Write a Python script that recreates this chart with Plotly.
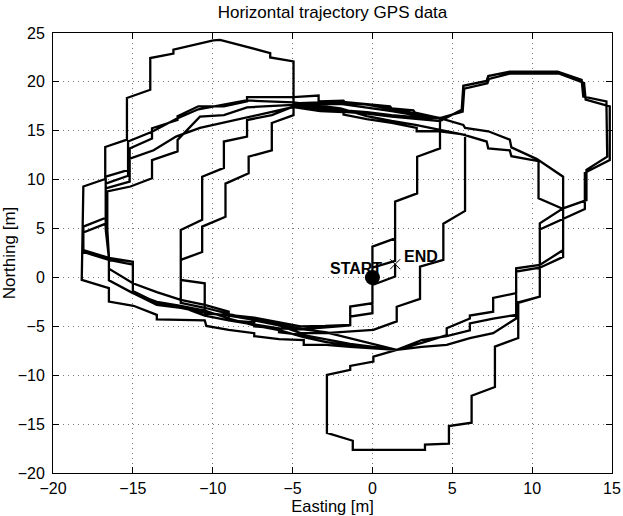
import plotly.graph_objects as go

# Trajectory laps (easting, northing) in metres, in driving order.
lap1 = [(0, 0), (0, 1.0), (1.42, 1.7), (1.42, 4.0), (1.42, 7.75), (2.8, 8.6), (2.8, 12.35), (4.23, 13.2), (4.23, 16.3),
        (2.56, 16.8), (1.21, 17.23), (-0.35, 17.67), (-1.7, 17.84), (-1.81, 18.08), (-3.37, 18.0), (-3.37, 18.6), (-4.94, 18.45),
        (-7.85, 18.45), (-7.85, 18.0), (-9.3, 17.5), (-10.9, 17.5), (-12.2, 16.5), (-12.2, 16.1), (-13.8, 15.26), (-13.8, 14.2),
        (-15.2, 13.2), (-15.2, 9.8), (-16.7, 9.1), (-16.7, 6.1), (-18.1, 5.2), (-18.1, 2.8), (-16.5, 2.0), (-15.0, 1.6),
        (-15.0, -1.6), (-13.5, -2.8), (-12.0, -3.1), (-10.5, -3.6), (-9.0, -3.9),
        (-7.4, -4.35), (-5.85, -4.86), (-4.3, -5.3), (-2.96, -5.6), (-1.4, -6.2), (0.1, -6.8), (1.52, -7.4),
        (3.09, -6.7), (4.65, -5.9), (4.65, -5.2), (6.1, -4.2), (6.1, -3.9), (7.56, -3.5), (7.56, -2.1), (9.0, -1.6), (9.0, 0.94),
        (10.48, 1.28), (11.94, 2.8), (11.94, 10.3),
        (10.3, 12.1), (8.7, 13.3), (8.6, 14.1), (7.25, 14.95), (5.8, 15.3), (5.69, 15.6), (4.23, 16.3)]

lap2 = [(2.7, 16.4), (1.2, 16.6), (-0.35, 16.9), (-2.0, 17.1), (-3.4, 17.35), (-4.94, 17.7),
        (-4.94, 22.1), (-6.4, 22.5), (-6.4, 22.95), (-7.98, 23.6), (-9.54, 24.3), (-9.96, 24.25), (-12.46, 23.3), (-12.46, 22.9),
        (-13.91, 22.44), (-13.91, 19.2), (-15.37, 18.35), (-15.37, 14.09), (-16.73, 13.34), (-16.73, 10.07), (-18.1, 9.3),
        (-18.2, -0.25), (-16.5, -1.1), (-16.5, -2.47), (-14.96, -2.9), (-13.5, -3.83), (-13.5, -4.28), (-10.5, -4.4),
        (-10.4, -4.96), (-9.0, -5.37),
        (-7.4, -5.7), (-7.4, -6.0), (-5.85, -6.3), (-4.3, -6.4), (-4.3, -6.9), (-2.9, -6.9), (-1.4, -7.1), (1.52, -7.4),
        (0.06, -8.1), (0.06, -8.6), (-1.39, -9.05), (-1.39, -9.46), (-2.85, -9.97), (-2.85, -15.9), (-1.23, -16.7),
        (-1.23, -17.64), (3.29, -17.64), (3.29, -17.1), (4.79, -17.0), (4.79, -15.2), (6.21, -14.85), (6.21, -12.1),
        (7.67, -11.2), (7.67, -7.07), (9.13, -6.2), (9.13, -2.6), (10.48, -1.96), (10.48, 4.9),
        (13.3, 7.0), (13.3, 10.7), (14.86, 12.0), (14.86, 17.5), (13.35, 18.2), (13.25, 19.9), (11.7, 20.85), (8.6, 20.85),
        (7.3, 20.3), (7.2, 19.85), (5.75, 19.3), (5.65, 16.95), (4.23, 16.3)]

lap3 = [(2.67, 16.85), (2.56, 17.1), (1.2, 17.3), (1.1, 17.5), (-2.0, 17.97), (-3.4, 17.9), (-4.94, 17.8),
        (-4.94, 16.6), (-6.3, 15.8), (-6.3, 13.0), (-7.75, 12.35), (-7.75, 10.65), (-9.2, 9.6), (-9.2, 6.2), (-10.66, 5.2),
        (-10.66, 2.6), (-12.0, 1.8), (-12.0, -0.25), (-10.5, -0.6), (-10.5, -3.7),
        (-9.0, -3.83), (-7.4, -4.1), (-5.85, -4.6), (-4.5, -5.0), (-2.96, -4.96), (-1.39, -4.86), (-1.39, -2.98), (0.0, -2.64),
        (0.0, 3.15), (1.42, 4.0), (1.42, 7.75), (2.8, 8.6), (2.8, 12.35), (4.23, 13.2), (4.23, 16.3)]

lap4 = [(2.67, 16.6), (1.2, 17.0), (-0.35, 17.4), (-2.0, 17.75), (-3.4, 17.7), (-4.94, 17.64),
        (-7.85, 17.4), (-9.3, 16.6), (-10.8, 16.45), (-12.2, 14.06), (-12.2, 12.9), (-13.8, 12.0), (-13.8, 10.15),
        (-15.15, 9.3), (-16.6, 8.8), (-16.6, 4.9), (-16.5, 2.2), (-16.5, 0.9), (-15.0, -0.6), (-13.5, -1.5), (-12.0, -2.3),
        (-10.5, -2.8), (-9.0, -3.5),
        (-9.0, -4.4), (-7.4, -4.6), (-7.4, -5.0), (-5.85, -5.2), (-5.85, -5.6), (-4.3, -5.9), (-2.96, -6.3), (-1.4, -6.8),
        (1.52, -7.4),
        (3.09, -7.1), (4.65, -6.9), (6.1, -6.2), (7.56, -5.7), (9.0, -4.2), (9.0, -2.6), (10.48, -1.96), (10.48, 5.54),
        (11.94, 7.07), (13.4, 7.9), (13.4, 11.0), (14.7, 12.35), (14.65, 18.0), (13.2, 18.5), (13.1, 20.2), (11.6, 21.05),
        (8.6, 21.05), (7.25, 20.6), (7.15, 20.1), (5.69, 19.6), (5.59, 17.16), (4.23, 16.0)]

lap5 = [(2.7, 16.2), (1.2, 16.45), (-0.35, 16.75), (-2.0, 17.0), (-3.4, 17.15), (-4.94, 17.5),
        (-6.3, 16.6), (-7.85, 16.1), (-7.85, 14.4), (-9.3, 13.9), (-9.3, 11.2), (-10.66, 10.3), (-10.66, 5.9), (-12.0, 4.86),
        (-12.0, -2.6),
        (-10.5, -3.1), (-9.0, -3.7), (-7.4, -4.4), (-5.85, -4.9), (-4.5, -5.7), (-2.96, -5.7), (-1.4, -5.5), (0.06, -5.37),
        (1.52, -4.5), (1.52, -3.0), (2.98, -2.2), (2.98, 1.1), (4.44, 1.8), (4.44, 5.5), (5.8, 6.8), (5.8, 14.6), (4.23, 14.95)]

lap6 = [(2.77, 14.95), (2.77, 15.3), (1.21, 15.8), (-0.35, 16.2), (-1.81, 16.65), (-1.81, 16.9), (-3.27, 17.0), (-4.94, 17.43),
        (-6.4, 16.9), (-7.9, 16.4), (-9.3, 15.9), (-10.8, 15.3), (-12.3, 14.4), (-13.7, 13.0), (-15.27, 12.1), (-15.27, 11.0),
        (-16.7, 10.3), (-16.7, 4.9), (-16.5, 2.0), (-16.5, -0.3), (-15.0, -1.6), (-13.5, -2.5), (-12.0, -2.9), (-10.5, -3.4),
        (-9.0, -4.2),
        (-7.4, -4.9), (-5.85, -5.4), (-4.3, -6.1), (-2.96, -6.6), (-1.4, -7.0), (1.52, -7.4),
        (3.09, -6.4), (4.65, -6.0), (6.1, -5.4), (6.1, -4.7), (7.56, -4.2), (9.0, -3.83), (9.0, 0.6), (10.48, 1.0),
        (11.94, 2.1), (11.94, 7.0), (10.4, 8.1), (10.4, 11.9),
        (8.7, 12.4), (8.6, 13.0), (7.25, 13.2), (7.15, 13.9), (5.69, 14.6), (4.23, 15.1)]

lap7 = [(2.7, 15.6), (1.2, 16.0), (-0.35, 16.5), (-2.0, 17.3), (-3.4, 17.6), (-4.94, 17.9),
        (-7.9, 18.1), (-9.3, 17.7), (-10.9, 17.2), (-12.3, 16.2), (-13.8, 14.9), (-15.3, 13.9), (-15.3, 10.4), (-16.7, 9.6),
        (-16.7, 5.5), (-18.1, 4.6), (-18.1, 2.6), (-16.5, 1.8), (-15.0, 1.3), (-15.0, -1.4), (-13.5, -2.6), (-12.0, -3.0),
        (-10.5, -3.9), (-9.0, -4.4),
        (-7.4, -4.8), (-5.85, -5.2), (-4.5, -5.3), (-2.96, -5.1), (-1.39, -4.9), (-1.39, -4.0), (0.0, -3.66), (0.0, -0.77),
        (1.42, 0.1), (1.42, 1.35)]

laps = [lap1, lap2, lap3, lap4, lap5, lap6, lap7]
east = [p[0] for lap in laps for p in lap]
north = [p[1] for lap in laps for p in lap]

start_pt = (0.0, 0.0)
end_pt = (1.42, 1.35)

x_ticks = [-20, -15, -10, -5, 0, 5, 10, 15]
y_ticks = [-20, -15, -10, -5, 0, 5, 10, 15, 20, 25]

FONT = "Liberation Sans, Arial, Helvetica, sans-serif"


def tick_text(values):
    return [f"\u2212{abs(v)}" if v < 0 else str(v) for v in values]


fig = go.Figure()
fig.add_trace(go.Scatter(x=east, y=north, mode="lines",
                         line=dict(color="black", width=2.3), showlegend=False, hoverinfo="skip"))
fig.add_trace(go.Scatter(x=[start_pt[0]], y=[start_pt[1]], mode="markers",
                         marker=dict(symbol="circle", size=15, color="black"), showlegend=False))
fig.add_trace(go.Scatter(x=[end_pt[0]], y=[end_pt[1]], mode="markers",
                         marker=dict(symbol="x-thin", size=10, line=dict(color="black", width=1)),
                         showlegend=False))

fig.add_annotation(x=0.3, y=0.94, text="<b>START</b>", showarrow=False, xanchor="right", yanchor="middle",
                   xshift=6, font=dict(family=FONT, size=16, color="black"), borderpad=0)
fig.add_annotation(x=1.94, y=2.15, text="<b>END</b>", showarrow=False, xanchor="left", yanchor="middle",
                   font=dict(family=FONT, size=16, color="black"), borderpad=0)

axis_common = dict(showline=True, linecolor="black", linewidth=1, mirror="allticks",
                   ticks="inside", ticklen=6, tickcolor="black", tickwidth=1,
                   showgrid=True, gridcolor="#7a7a7a", griddash="1px,4px", gridwidth=1,
                   zeroline=False, automargin=False,
                   tickfont=dict(family=FONT, size=16, color="black"))

fig.update_layout(
    width=623, height=516,
    margin=dict(l=53, r=11, t=33, b=43, autoexpand=False),
    paper_bgcolor="white", plot_bgcolor="white",
    title=dict(text="Horizontal trajectory GPS data", x=0.5, xref="paper", xanchor="center",
               y=1 - 12 / 516, yref="container", yanchor="middle",
               font=dict(family=FONT, size=17, color="black")),
    xaxis=dict(range=[-20, 15], tickvals=x_ticks, ticktext=tick_text(x_ticks),
               title=dict(text="Easting [m]", standoff=2, font=dict(family=FONT, size=16.5, color="black")),
               ticklabelstandoff=1, **axis_common),
    yaxis=dict(range=[-20, 25], tickvals=y_ticks, ticktext=tick_text(y_ticks),
               title=dict(text="Northing [m]", standoff=1, font=dict(family=FONT, size=17, color="black")),
               ticklabelstandoff=4, **axis_common),
)

fig.write_html("out.html")
